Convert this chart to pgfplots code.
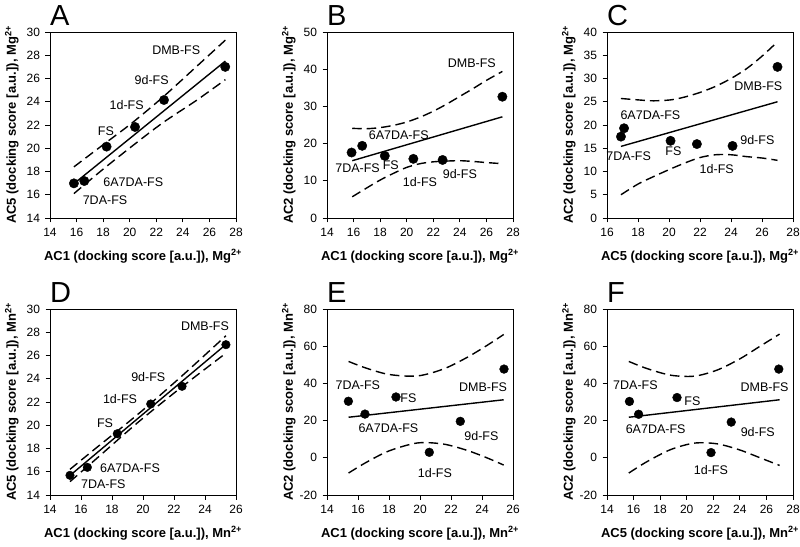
\documentclass[border=0pt]{standalone}
\usepackage{fontspec}
\setmainfont{Liberation Sans}
\usepackage{pgfplots}
\pgfplotsset{compat=1.18}

\pgfplotsset{
  panel/.style={
    scale only axis, width=186pt, height=186pt,
    anchor=north west, clip=false,
    axis line style={line width=0.9pt},
    tick pos=left, tick align=outside,
    major tick length=4.5pt,
    every tick/.style={black, line width=0.9pt},
    /pgf/number format/assume math mode=true,
    ticklabel style={font=\fontsize{12}{14}\selectfont},
    xticklabel style={yshift=-2pt},
    yticklabel style={xshift=-2pt},
    every axis x label/.style={at={(axis description cs:0.5,-0.205)}, anchor=center,
      font=\bfseries\fontsize{13}{15}\selectfont},
    every axis y label/.style={at={(axis description cs:-0.205,0.5)}, anchor=center, rotate=90,
      font=\bfseries\fontsize{13}{15}\selectfont},
  },
  pts/.style={only marks, mark=*, mark size=4.7pt, black},
  fit/.style={black, line width=1.4pt, mark=none},
  band/.style={black, line width=1.4pt, mark=none, smooth, dash pattern=on 9.5pt off 5pt},
}
\newcommand{\lab}[3]{\node[font=\fontsize{12.5}{14}\selectfont, inner sep=0] at (axis cs:#1,#2) {#3};}
\newcommand{\letter}[1]{\node[anchor=south west, inner sep=0, font=\fontsize{29}{30}\selectfont] at ([yshift=6pt]rel axis cs:0,1) {#1};}

\begin{document}
\begin{tikzpicture}
\useasboundingbox (0,0) rectangle (800pt,546pt);

% A
\begin{axis}[panel, at={(50pt,514pt)},
  xmin=14, xmax=28, ymin=14, ymax=30, xtick distance=2, ytick distance=2,
  xlabel={AC1 (docking score [a.u.]), Mg\textsuperscript{2+}},
  ylabel={AC5 (docking score [a.u.]), Mg\textsuperscript{2+}}]
\addplot[band] coordinates {(15.8,18.4) (18,20.3) (20.2,22.2) (22.5,24.4) (25,27.0) (27.2,29.3)};
\addplot[band] coordinates {(15.8,16.1) (18,18.2) (20.2,20.2) (22.5,22.2) (25,24.1) (27.2,25.9)};
\addplot[fit] coordinates {(15.8,16.95) (27.2,27.5)};
\addplot[pts] coordinates {(15.8,16.98) (16.58,17.18) (18.26,20.14) (20.4,21.83) (22.58,24.15) (27.19,27.0)};
\lab{23.5}{28.45}{DMB-FS}
\lab{21.65}{25.87}{9d-FS}
\lab{19.77}{23.72}{1d-FS}
\lab{18.21}{21.43}{FS}
\lab{20.27}{17.12}{6A7DA-FS}
\lab{18.14}{15.55}{7DA-FS}
\letter{A}
\end{axis}

% B
\begin{axis}[panel, at={(327pt,514pt)},
  xmin=14, xmax=28, ymin=0, ymax=50, xtick distance=2, ytick distance=10,
  xlabel={AC1 (docking score [a.u.]), Mg\textsuperscript{2+}},
  ylabel={AC2 (docking score [a.u.]), Mg\textsuperscript{2+}}]
\addplot[band] coordinates {(15.9,24.1) (17,24.0) (18,24.3) (19,24.9) (20,25.8) (21,27.1) (22,28.7) (23,30.6) (24,32.7) (25,34.8) (26,37.0) (27.2,39.4)};
\addplot[band] coordinates {(15.9,5.7) (17,8.1) (18,10.2) (19,12.0) (20,13.6) (21,14.6) (22,15.1) (23,15.3) (24,15.4) (25,15.2) (26,14.9) (27.2,14.6)};
\addplot[fit] coordinates {(15.9,15.4) (27.2,27.2)};
\addplot[pts] coordinates {(15.85,17.6) (16.65,19.4) (18.35,16.7) (20.5,15.9) (22.7,15.6) (27.2,32.6)};
\lab{24.9}{41.6}{DMB-FS}
\lab{19.4}{22.3}{6A7DA-FS}
\lab{16.3}{13.4}{7DA-FS}
\lab{18.8}{14.25}{FS}
\lab{21.0}{9.8}{1d-FS}
\lab{24.0}{11.7}{9d-FS}
\letter{B}
\end{axis}

% C
\begin{axis}[panel, at={(607pt,514pt)},
  xmin=16, xmax=28, ymin=0, ymax=40, xtick distance=2, ytick distance=5,
  xlabel={AC5 (docking score [a.u.]), Mg\textsuperscript{2+}},
  ylabel={AC2 (docking score [a.u.]), Mg\textsuperscript{2+}}]
\addplot[band] coordinates {(16.9,25.7) (18,25.4) (19,25.2) (20.1,25.4) (21,26.0) (22,27.0) (23,28.3) (24,30.0) (25,32.1) (26,34.8) (27,37.9)};
\addplot[band] coordinates {(16.9,5.0) (18,7.3) (19,8.9) (20,10.4) (21,11.8) (22,13.0) (23,13.6) (24,13.6) (25,13.2) (26,12.9) (27,12.4)};
\addplot[fit] coordinates {(16.9,15.4) (27.0,25.0)};
\addplot[pts] coordinates {(16.9,17.5) (17.1,19.3) (20.1,16.6) (21.8,15.9) (24.1,15.5) (27.0,32.5)};
\lab{25.76}{28.4}{DMB-FS}
\lab{18.8}{22.15}{6A7DA-FS}
\lab{17.4}{13.3}{7DA-FS}
\lab{20.28}{14.26}{FS}
\lab{25.7}{16.8}{9d-FS}
\lab{23.08}{10.5}{1d-FS}
\letter{C}
\end{axis}

% D
\begin{axis}[panel, at={(50pt,237pt)},
  xmin=14, xmax=26, ymin=14, ymax=30, xtick distance=2, ytick distance=2,
  xlabel={AC1 (docking score [a.u.]), Mn\textsuperscript{2+}},
  ylabel={AC5 (docking score [a.u.]), Mn\textsuperscript{2+}}]
\addplot[band] coordinates {(15.29,16.21) (17,18.07) (19.74,21.02) (22.5,24.23) (25.35,27.7)};
\addplot[band] coordinates {(15.29,15.15) (17,17.13) (19.74,20.32) (22.5,23.29) (25.35,26.2)};
\addplot[fit] coordinates {(15.29,15.68) (25.35,26.95)};
\addplot[pts, mark size=4.3pt] coordinates {(15.29,15.69) (16.41,16.38) (18.34,19.27) (20.5,21.83) (22.52,23.35) (25.35,26.93)};
\lab{24.0}{28.5}{DMB-FS}
\lab{20.34}{24.15}{9d-FS}
\lab{18.52}{22.26}{1d-FS}
\lab{17.55}{20.14}{FS}
\lab{19.16}{16.32}{6A7DA-FS}
\lab{17.44}{14.97}{7DA-FS}
\letter{D}
\end{axis}

% E
\begin{axis}[panel, at={(327pt,237pt)},
  xmin=14, xmax=26, ymin=-20, ymax=80, xtick distance=2, ytick distance=20,
  xlabel={AC1 (docking score [a.u.]), Mn\textsuperscript{2+}},
  ylabel={AC2 (docking score [a.u.]), Mn\textsuperscript{2+}}]
\addplot[band] coordinates {(15.39,51.8) (16.5,48.3) (18,44.8) (19.83,44.0) (21.5,47.7) (23,53.8) (24.3,60.3) (25.4,66.3)};
\addplot[band] coordinates {(15.39,-8.2) (16.5,-2.6) (18,3.7) (19.83,7.97) (21.5,7.4) (23,4.1) (24.3,0.05) (25.4,-3.9)};
\addplot[fit] coordinates {(15.39,21.8) (25.4,31.2)};
\addplot[pts, mark size=4.4pt] coordinates {(15.38,30.4) (16.45,23.5) (18.45,32.7) (20.6,2.95) (22.6,19.6) (25.42,47.7)};
\lab{15.99}{39.2}{7DA-FS}
\lab{19.25}{32.1}{FS}
\lab{24.07}{38.0}{DMB-FS}
\lab{17.96}{15.9}{6A7DA-FS}
\lab{23.96}{11.8}{9d-FS}
\lab{20.96}{-8.3}{1d-FS}
\letter{E}
\end{axis}

% F
\begin{axis}[panel, at={(607pt,237pt)},
  xmin=14, xmax=28, ymin=-20, ymax=80, xtick distance=2, ytick distance=20,
  xlabel={AC5 (docking score [a.u.]), Mn\textsuperscript{2+}},
  ylabel={AC2 (docking score [a.u.]), Mn\textsuperscript{2+}}]
\addplot[band] coordinates {(15.64,51.8) (17,48.0) (18.8,44.4) (20.58,43.9) (22.3,47.2) (24,53.2) (25.5,59.9) (26.99,66.5)};
\addplot[band] coordinates {(15.64,-8.2) (17,-2.1) (18.8,4.45) (20.58,7.9) (22.3,7.5) (24,4.2) (25.5,0.06) (26.99,-4.1)};
\addplot[fit] coordinates {(15.64,21.8) (26.99,31.2)};
\addplot[pts, mark size=4.4pt] coordinates {(15.69,30.3) (16.38,23.4) (19.27,32.4) (21.83,2.8) (23.35,19.2) (26.93,47.7)};
\lab{16.14}{39.2}{7DA-FS}
\lab{20.43}{30.6}{FS}
\lab{25.86}{38.0}{DMB-FS}
\lab{17.66}{15.4}{6A7DA-FS}
\lab{25.35}{13.6}{9d-FS}
\lab{21.82}{-6.5}{1d-FS}
\letter{F}
\end{axis}
\end{tikzpicture}
\end{document}
